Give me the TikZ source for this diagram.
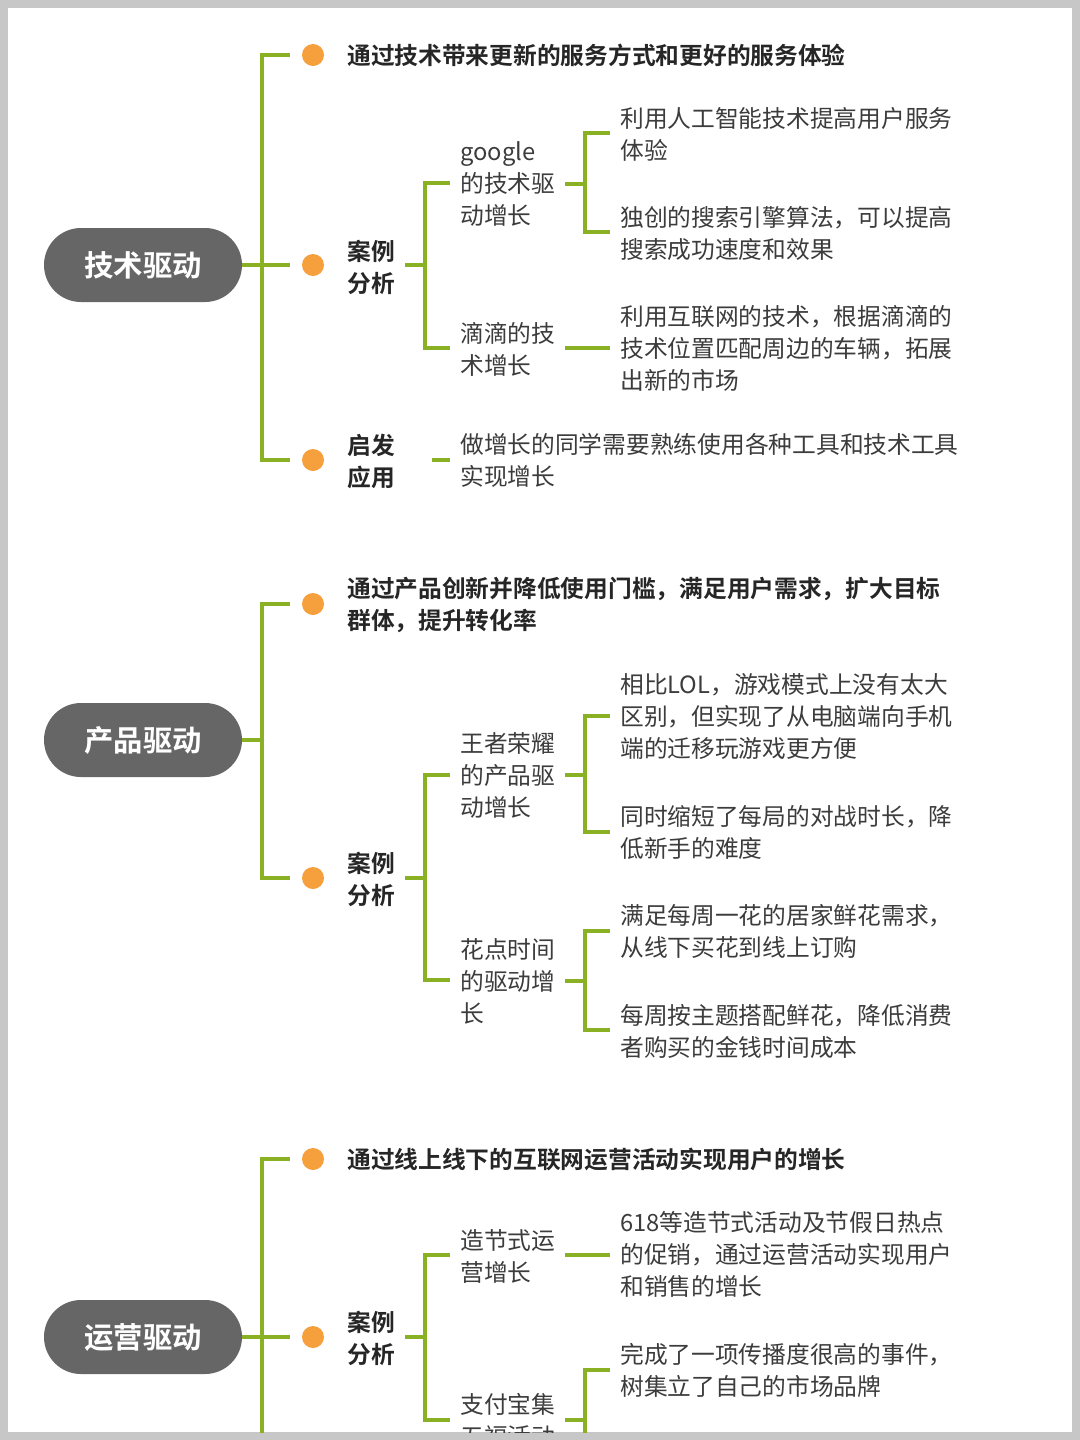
\documentclass[tikz,border=0pt]{standalone}
\usepackage{fontspec}
\setmainfont{Noto Sans CJK SC}
\newfontfamily\cjkb{Noto Sans CJK SC Bold}
\definecolor{lnc}{RGB}{138,176,36}
\definecolor{dotc}{RGB}{245,160,60}
\definecolor{pillc}{RGB}{102,102,102}
\definecolor{txc}{RGB}{60,60,60}
\tikzset{
  br/.style={draw=lnc,line width=2.4pt},
  pill/.style={fill=pillc,rounded corners=37*0.75pt,minimum width=198*0.75pt,minimum height=74*0.75pt,text=white,font=\cjkb\fontsize{22}{26}\selectfont,inner sep=0},
  dotn/.style={circle,fill=dotc,minimum size=22*0.75pt,inner sep=0},
  bt/.style={anchor=west,inner sep=0,align=left,text=black!85,font=\cjkb\fontsize{17.8}{24}\selectfont},
  lt/.style={anchor=west,inner sep=0,align=left,text=txc,font=\fontsize{17.8}{24}\selectfont},
}
\begin{document}
\begin{tikzpicture}[x=0.75pt,y=-0.75pt]
\useasboundingbox (0,0) rectangle (1080,1440);
\fill[black!22] (0,0) rectangle (1080,1440);
\fill[white] (8,8) rectangle (1072,1432);
\begin{scope}
\clip (8,8) rectangle (1072,1432);
% ===== Section 1
\node[pill] (r1) at (143,265) {技术驱动};
\coordinate (t1) at (262,55); \coordinate (b1) at (262,460);
\draw[br] (r1.east) -- (262,265);
\draw[br] (290,55) -- (t1) -- (b1) -- (290,460);
\draw[br] (262,265) -- (290,265);
\node[dotn] (d11) at (313,55) {}; \node[bt] (s11) at (347,55) {通过技术带来更新的服务方式和更好的服务体验};
\node[dotn] (d12) at (313,265) {}; \node[bt] (s12) at (347,267) {案例\\分析};
\node[dotn] (d13) at (313,460) {}; \node[bt] (s13) at (347,461) {启发\\应用};
\draw[br] (405,265) -- (425,265);
\draw[br] (450,183) -- (425,183) -- (425,348) -- (450,348);
\node[lt] (g1) at (460,184) {google\\的技术驱\\动增长};
\draw[br] (565,184) -- (585,184);
\draw[br] (610,133) -- (585,133) -- (585,232) -- (610,232);
\node[lt] (l11) at (620,134) {利用人工智能技术提高用户服务\\体验};
\node[lt] (l12) at (620,233) {独创的搜索引擎算法，可以提高\\搜索成功速度和效果};
\node[lt] (g2) at (460,349) {滴滴的技\\术增长};
\draw[br] (565,348) -- (610,348);
\node[lt] (l13) at (620,348) {利用互联网的技术，根据滴滴的\\技术位置匹配周边的车辆，拓展\\出新的市场};
\draw[br] (432,460) -- (450,460);
\node[lt] (l14) at (460,460) {做增长的同学需要熟练使用各种工具和技术工具\\实现增长};
% ===== Section 2
\node[pill] (r2) at (143,740) {产品驱动};
\draw[br] (r2.east) -- (262,740);
\draw[br] (290,604) -- (262,604) -- (262,878) -- (290,878);
\node[dotn] (d21) at (313,604) {}; \node[bt] (s21) at (347,605) {通过产品创新并降低使用门槛，满足用户需求，扩大目标\\群体，提升转化率};
\node[dotn] (d22) at (313,878) {}; \node[bt] (s22) at (347,879) {案例\\分析};
\draw[br] (405,878) -- (425,878);
\draw[br] (450,775) -- (425,775) -- (425,980) -- (450,980);
\node[lt] (g3) at (460,775) {王者荣耀\\的产品驱\\动增长};
\draw[br] (565,775) -- (585,775);
\draw[br] (610,716) -- (585,716) -- (585,832) -- (610,832);
\node[lt] (l21) at (620,717) {相比LOL，游戏模式上没有太大\\区别，但实现了从电脑端向手机\\端的迁移玩游戏更方便};
\node[lt] (l22) at (620,832) {同时缩短了每局的对战时长，降\\低新手的难度};
\node[lt] (g4) at (460,981) {花点时间\\的驱动增\\长};
\draw[br] (565,981) -- (585,981);
\draw[br] (610,931) -- (585,931) -- (585,1030) -- (610,1030);
\node[lt] (l23) at (620,931) {满足每周一花的居家鲜花需求，\\从线下买花到线上订购};
\node[lt] (l24) at (620,1031) {每周按主题搭配鲜花，降低消费\\者购买的金钱时间成本};
% ===== Section 3
\node[pill] (r3) at (143,1337) {运营驱动};
\draw[br] (r3.east) -- (262,1337);
\draw[br] (290,1159) -- (262,1159) -- (262,1460);
\draw[br] (262,1337) -- (290,1337);
\node[dotn] (d31) at (313,1159) {}; \node[bt] (s31) at (347,1159) {通过线上线下的互联网运营活动实现用户的增长};
\node[dotn] (d32) at (313,1337) {}; \node[bt] (s32) at (347,1338) {案例\\分析};
\draw[br] (405,1337) -- (425,1337);
\draw[br] (450,1255) -- (425,1255) -- (425,1420) -- (450,1420);
\node[lt] (g5) at (460,1256) {造节式运\\营增长};
\draw[br] (565,1255) -- (610,1255);
\node[lt] (l31) at (620,1254) {618等造节式活动及节假日热点\\的促销，通过运营活动实现用户\\和销售的增长};
\node[lt] (g6) at (460,1420) {支付宝集\\五福活动};
\draw[br] (565,1420) -- (585,1420);
\draw[br] (610,1370) -- (585,1370) -- (585,1460);
\node[lt] (l32) at (620,1370) {完成了一项传播度很高的事件，\\树集立了自己的市场品牌};
\end{scope}
\end{tikzpicture}
\end{document}
